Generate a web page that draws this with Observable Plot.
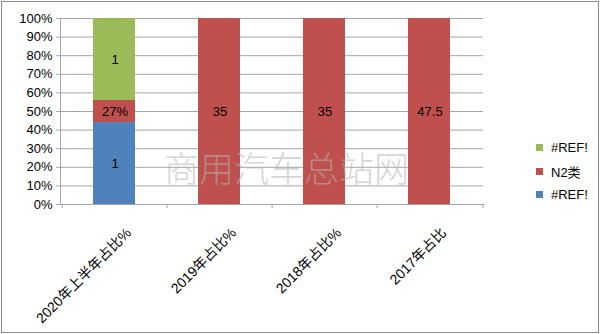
<!DOCTYPE html>
<html>
<head>
<meta charset="utf-8">
<script src="https://cdn.jsdelivr.net/npm/d3@7"></script>
<script src="https://cdn.jsdelivr.net/npm/@observablehq/plot@0.6"></script>
<style>
  html, body { margin: 0; padding: 0; background: #fff; }
  #wrap { position: relative; width: 600px; height: 334px; overflow: hidden; font-family: "Liberation Sans", "Noto Sans CJK SC", sans-serif; }
  #frame { position: absolute; left: 1px; top: 1px; width: 596px; height: 330px; border: 1px solid #8c8c8c; pointer-events: none; }
  #legend { position: absolute; left: 536px; top: 136px; font-size: 13px; color: #000; }
  #legend div { height: 23.5px; display: flex; align-items: center; }
  #legend span.sw { display: inline-block; width: 7px; height: 7px; margin-right: 8px; }
  #wm { position: absolute; left: 164px; top: 141px; font-family: "Noto Sans CJK SC", sans-serif; font-weight: 200; font-size: 35px; color: #b4b4b4; opacity: 0.55; white-space: nowrap; letter-spacing: 0px; }
</style>
</head>
<body>
<div id="wrap"></div>
<script>
const categories = ["2020年上半年占比%", "2019年占比%", "2018年占比%", "2017年占比"];
const seriesKeys = ["ref1", "n2", "ref2"];
const seriesNames = ["#REF!", "N2类", "#REF!"];
const seriesColors = ["#4f81bd", "#c0504d", "#9bbb59"];
const ref1Values = [1, null, null, null];
const n2Values = [0.27, 35, 35, 47.5];
const ref2Values = [1, null, null, null];
const ref1Labels = ["1", "", "", ""];
const n2Labels = ["27%", "35", "35", "47.5"];
const ref2Labels = ["1", "", "", ""];
const yTicks = [0, 0.1, 0.2, 0.3, 0.4, 0.5, 0.6, 0.7, 0.8, 0.9, 1];

const data = [];
categories.forEach((c, i) => {
  [[ref1Values, ref1Labels, 0], [n2Values, n2Labels, 1], [ref2Values, ref2Labels, 2]].forEach(([vals, labs, s]) => {
    if (vals[i] != null) data.push({cat: c, series: seriesKeys[s], value: vals[i], label: labs[i]});
  });
});

const W = 600, H = 334, ML = 60, MR = 117, MT = 18, MB = 130;
const bw = (W - ML - MR) / categories.length;
const grey = "#a6a6a6";

const chart = Plot.plot({
  width: W, height: H,
  marginLeft: ML, marginRight: MR, marginTop: MT, marginBottom: MB,
  style: {fontFamily: "'Liberation Sans', 'Noto Sans CJK SC', sans-serif", fontSize: "13px", color: "#000", background: "transparent"},
  x: {domain: categories, padding: 0, label: null},
  y: {domain: [0, 1], label: null},
  color: {domain: seriesKeys, range: seriesColors},
  marks: [
    Plot.gridY(yTicks, {stroke: grey, strokeOpacity: 1}),
    Plot.barY(data, Plot.stackY({offset: "normalize", x: "cat", y: "value", fill: "series", insetLeft: 31, insetRight: 32})),
    Plot.text(data, Plot.stackY({offset: "normalize", x: "cat", y: "value", text: "label", fill: "#000", fontSize: 13})),
    Plot.frame({anchor: "left", stroke: grey}),
    Plot.frame({anchor: "bottom", stroke: grey}),
    Plot.axisY({ticks: yTicks, tickFormat: d3.format(".0%"), tickSize: 4, tickPadding: 4, stroke: grey, fill: "#000", label: null}),
    Plot.ruleX(categories, {x: d => d, y1: 0, y2: -0.022, dx: -bw / 2, stroke: grey}),
    Plot.ruleX(categories.slice(-1), {x: d => d, y1: 0, y2: -0.022, dx: bw / 2, stroke: grey}),
    Plot.axisX({tickSize: 0, tickRotate: -45, tickPadding: 18, dx: 14, dy: 8, fill: "#000", fontSize: 14, label: null})
  ]
});

const wrap = document.getElementById("wrap");
wrap.appendChild(chart);

const wm = document.createElement("div");
wm.id = "wm";
wm.textContent = "商用汽车总站网";
wrap.appendChild(wm);

const legend = document.createElement("div");
legend.id = "legend";
[2, 1, 0].forEach(s => {
  const row = document.createElement("div");
  const sw = document.createElement("span");
  sw.className = "sw";
  sw.style.background = seriesColors[s];
  row.appendChild(sw);
  row.appendChild(document.createTextNode(seriesNames[s]));
  legend.appendChild(row);
});
wrap.appendChild(legend);

const fr = document.createElement("div");
fr.id = "frame";
wrap.appendChild(fr);
</script>
</body>
</html>
